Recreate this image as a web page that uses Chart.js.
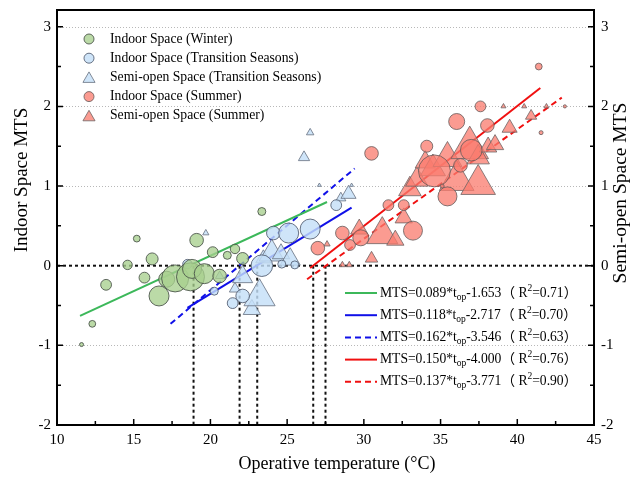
<!DOCTYPE html>
<html>
<head>
<meta charset="utf-8">
<script src="https://cdn.jsdelivr.net/npm/chart.js@4.4.0/dist/chart.umd.min.js"></script>
<style>
  html, body { margin: 0; padding: 0; background: #fff; }
</style>
</head>
<body>
<canvas id="c" width="636" height="484"></canvas>
<script>
// ---------- Data ----------
const xTicks = [10, 15, 20, 25, 30, 35, 40, 45];
const yTicks = [-2, -1, 0, 1, 2, 3];
const gridVals = [-1, 1, 2, 3];

// Indoor space, winter (t_op, MTS, bubble radius)
const winterT   = [11.6, 12.3, 13.2, 14.6, 15.2, 15.7, 16.2, 16.65, 17.15, 17.7, 18.7, 18.8, 19.1, 19.6, 20.15, 20.6, 21.1, 21.6, 22.1, 23.35];
const winterMTS = [-0.99, -0.73, -0.24, 0.01, 0.34, -0.15, 0.085, -0.38, -0.17, -0.16, -0.14, -0.04, 0.32, -0.10, 0.17, -0.13, 0.13, 0.21, 0.09, 0.68];
const winterR   = [2, 3.4, 5.4, 4.7, 3.4, 5.4, 6, 10, 8, 13.5, 14, 9.5, 6.8, 10, 5.4, 6.8, 4, 4.7, 6, 4];

// Indoor space, transition seasons
const transInT   = [18.5, 20.25, 21.45, 22.1, 23.35, 24.1, 24.65, 25.1, 25.5, 26.5, 28.2];
const transInMTS = [0.02, -0.32, -0.47, -0.38, 0.0, 0.41, 0.02, 0.41, 0.01, 0.46, 0.76];
const transInR   = [4.7, 4, 5.4, 6.8, 10.8, 6.8, 4, 10, 4, 10, 5.4];

// Semi-open space, transition seasons
const transOutT   = [19.7, 20.6, 21.6, 22.1, 22.7, 23.2, 23.45, 24.0, 24.6, 25.2, 26.1, 26.5, 27.1, 28.5, 29.0, 29.2];
const transOutMTS = [0.41, -0.13, -0.29, -0.14, -0.55, -0.39, 0.09, 0.15, 0.15, 0.08, 1.36, 1.67, 1.01, 0.85, 0.90, 1.01];
const transOutR   = [3.6, 5, 6.5, 11.6, 10, 18, 8.7, 14.5, 10, 11.6, 6.5, 4.3, 2.2, 5.8, 8.7, 2.2];

// Indoor space, summer
const summerInT   = [27.0, 28.6, 29.1, 29.8, 30.5, 31.6, 32.6, 33.2, 34.1, 34.6, 35.1, 35.45, 36.05, 36.3, 37.0, 37.6, 38.05, 41.4, 41.55, 43.1];
const summerInMTS = [0.22, 0.41, 0.26, 0.35, 1.41, 0.76, 0.76, 0.44, 1.50, 1.19, 1.0, 0.87, 1.81, 1.26, 1.45, 2.0, 1.76, 2.5, 1.67, 2.0];
const summerInR   = [6.8, 6.8, 5.4, 8, 6.8, 5.4, 5.4, 9.5, 6, 16, 2, 9.5, 8, 6.8, 10.8, 5.4, 6.8, 3.4, 2, 1.6];

// Semi-open space, summer
const summerOutT   = [27.6, 28.6, 29.05, 29.7, 30.5, 31.2, 32.05, 32.6, 33.0, 33.45, 34.0, 34.5, 35.45, 36.05, 36.9, 37.45, 37.45, 38.1, 38.55, 39.1, 39.5, 40.45, 40.9, 41.9];
const summerOutMTS = [0.27, 0.01, 0.01, 0.46, 0.09, 0.39, 0.32, 0.60, 0.96, 1.08, 1.30, 1.22, 1.35, 1.07, 1.48, 1.02, 1.36, 1.49, 1.52, 2.0, 1.73, 2.0, 1.88, 2.0];
const summerOutR   = [3.6, 3.6, 3.6, 10, 7.2, 18, 10, 10, 13, 13, 11.6, 14.5, 16.7, 20, 21.7, 20, 13, 10, 10, 2.9, 8.7, 2.9, 6.5, 2.9];

// Fit lines, end points ([t start, t end], [MTS start, MTS end])
const fitNames  = ['winterIn', 'transIn', 'transOut', 'summerIn', 'summerOut'];
const fitT      = [[11.5, 27.6], [18.5, 29.2], [17.4, 29.4], [26.5, 41.5], [26.3, 42.9]];
const fitMTS    = [[-0.63, 0.80], [-0.53, 0.73], [-0.73, 1.22], [-0.03, 2.23], [-0.17, 2.11]];
const fitSlope  = ['0.089', '0.118', '0.162', '0.150', '0.137'];
const fitInter  = ['-1.653', '-2.717', '-3.546', '-4.000', '-3.771'];
const fitR2     = ['0.71', '0.70', '0.63', '0.76', '0.90'];

// Neutral temperatures (MTS = 0)
const neutralT = [18.9, 21.9, 23.05, 26.7, 27.5];

const seriesLabels = [
  'Indoor Space (Winter)',
  'Indoor Space (Transition Seasons)',
  'Semi-open Space (Transition Seasons)',
  'Indoor Space (Summer)',
  'Semi-open Space (Summer)'
];

// ---------- Styles ----------
const SERIF = '"Liberation Serif", "Times New Roman", serif';
const GREEN_FILL = 'rgba(168,208,142,0.78)';
const BLUE_FILL = 'rgba(196,223,248,0.82)';
const RED_FILL = 'rgba(250,124,110,0.76)';
const fillColors = [GREEN_FILL, BLUE_FILL, BLUE_FILL, RED_FILL, RED_FILL];
const edgeColors = ['rgba(70,80,70,0.85)', 'rgba(80,90,110,0.85)', 'rgba(110,120,135,0.85)', 'rgba(100,90,90,0.8)', 'rgba(110,100,100,0.8)'];
const shapes = ['circle', 'circle', 'triangle', 'circle', 'triangle'];
const fitColors = ['#3cb85a', '#1010e8', '#1010e8', '#f01010', '#f01010'];
const fitDash = [[], [], [6, 4], [], [6, 4]];

function pts(xs, ys, rs) {
  return xs.map((x, i) => ({ x: x, y: ys[i], r: rs[i] }));
}

const bubbleSets = [
  pts(winterT, winterMTS, winterR),
  pts(transInT, transInMTS, transInR),
  pts(transOutT, transOutMTS, transOutR),
  pts(summerInT, summerInMTS, summerInR),
  pts(summerOutT, summerOutMTS, summerOutR)
];

const datasets = [];

bubbleSets.forEach((d, i) => {
  datasets.push({
    type: 'bubble',
    label: seriesLabels[i],
    data: d,
    backgroundColor: fillColors[i],
    borderColor: edgeColors[i],
    borderWidth: 1,
    pointStyle: shapes[i],
    order: 1
  });
});

fitNames.forEach((n, i) => {
  datasets.push({
    type: 'line',
    label: n,
    data: [{ x: fitT[i][0], y: fitMTS[i][0] }, { x: fitT[i][1], y: fitMTS[i][1] }],
    borderColor: fitColors[i],
    borderWidth: 2,
    borderDash: fitDash[i],
    pointRadius: 0,
    fill: false,
    order: 3
  });
});

// black dashed reference lines
datasets.push({
  type: 'line',
  label: 'zero',
  data: [{ x: 10, y: 0 }, { x: 45, y: 0 }],
  borderColor: '#111',
  borderWidth: 2,
  borderDash: [3, 3],
  pointRadius: 0,
  order: 4
});
neutralT.forEach(t => {
  datasets.push({
    type: 'line',
    label: 'neutral',
    data: [{ x: t, y: 0 }, { x: t, y: -2 }],
    borderColor: '#111',
    borderWidth: 2,
    borderDash: [3, 3],
    pointRadius: 0,
    order: 4
  });
});

// ---------- Plugins ----------
const gridPlugin = {
  id: 'gridPlugin',
  beforeDatasetsDraw(chart) {
    const { ctx, chartArea: a, scales: { y } } = chart;
    ctx.save();
    ctx.strokeStyle = '#b8b8b8';
    ctx.lineWidth = 1;
    ctx.setLineDash([1, 2]);
    gridVals.forEach(v => {
      const py = Math.round(y.getPixelForValue(v)) + 0.5;
      ctx.beginPath();
      ctx.moveTo(a.left, py);
      ctx.lineTo(a.right, py);
      ctx.stroke();
    });
    ctx.restore();
  }
};

const framePlugin = {
  id: 'framePlugin',
  afterDatasetsDraw(chart) {
    const { ctx, chartArea: a, scales: { x, y } } = chart;
    ctx.save();
    ctx.strokeStyle = '#000';
    ctx.lineWidth = 1.5;
    // ticks (inward)
    for (let v = 10; v <= 45; v += 2.5) {
      const px = x.getPixelForValue(v);
      const len = (v % 5 === 0) ? 6 : 4;
      ctx.beginPath();
      ctx.moveTo(px, a.bottom);
      ctx.lineTo(px, a.bottom - len);
      ctx.stroke();
    }
    for (let v = -2; v <= 3; v += 0.5) {
      const py = y.getPixelForValue(v);
      const len = Number.isInteger(v) ? 6 : 4;
      ctx.beginPath();
      ctx.moveTo(a.left, py);
      ctx.lineTo(a.left + len, py);
      ctx.moveTo(a.right, py);
      ctx.lineTo(a.right - len, py);
      ctx.stroke();
    }
    ctx.lineWidth = 2;
    ctx.strokeRect(a.left, a.top, a.right - a.left, a.bottom - a.top);
    ctx.restore();
  }
};

function drawMarker(ctx, shape, cx, cy, r, fill, edge) {
  ctx.beginPath();
  if (shape === 'circle') {
    ctx.arc(cx, cy, r, 0, Math.PI * 2);
  } else {
    ctx.moveTo(cx, cy - r);
    ctx.lineTo(cx + r * 0.866, cy + r * 0.5);
    ctx.lineTo(cx - r * 0.866, cy + r * 0.5);
    ctx.closePath();
  }
  ctx.fillStyle = fill;
  ctx.fill();
  ctx.strokeStyle = edge;
  ctx.lineWidth = 1;
  ctx.stroke();
}

const textPlugin = {
  id: 'textPlugin',
  afterDraw(chart) {
    const { ctx } = chart;
    ctx.save();
    ctx.fillStyle = '#000';
    ctx.textBaseline = 'middle';

    // marker legend, top left
    ctx.font = '13.7px ' + SERIF;
    ctx.textAlign = 'left';
    seriesLabels.forEach((lab, i) => {
      const ly = 39 + i * 19.2;
      const isCircle = shapes[i] === 'circle';
      drawMarker(ctx, shapes[i], 89, ly + (isCircle ? 0 : 1.5), isCircle ? 5 : 7, fillColors[i], edgeColors[i]);
      ctx.fillStyle = '#000';
      ctx.fillText(lab, 110, ly);
    });

    // fit legend, bottom right
    const base = '13.6px ' + SERIF + ', "Noto Sans CJK SC"';
    const small = '9.5px ' + SERIF;
    fitNames.forEach((n, i) => {
      const ly = 293 + i * 22.2;
      ctx.save();
      ctx.strokeStyle = fitColors[i];
      ctx.lineWidth = 2;
      ctx.setLineDash(fitDash[i]);
      ctx.beginPath();
      ctx.moveTo(345, ly);
      ctx.lineTo(377, ly);
      ctx.stroke();
      ctx.restore();
      let tx = 380;
      const parts = [
        [base, 'MTS=' + fitSlope[i] + '*t', 0],
        [small, 'op', 4],
        [base, fitInter[i] + '（ R', 0],
        [small, '2', -5],
        [base, '=' + fitR2[i] + '）', 0]
      ];
      parts.forEach(p => {
        ctx.font = p[0];
        ctx.fillStyle = '#000';
        ctx.fillText(p[1], tx, ly + p[2]);
        tx += ctx.measureText(p[1]).width;
      });
    });

    // axis titles
    ctx.textAlign = 'center';
    ctx.font = '18px ' + SERIF;
    ctx.fillText('Operative temperature (°C)', 337, 464);
    ctx.font = '19px ' + SERIF;
    ctx.save();
    ctx.translate(22, 180);
    ctx.rotate(-Math.PI / 2);
    ctx.fillText('Indoor Space MTS', 0, 0);
    ctx.restore();
    ctx.save();
    ctx.translate(621, 193);
    ctx.rotate(-Math.PI / 2);
    ctx.font = '19.5px ' + SERIF;
    ctx.fillText('Semi-open Space MTS', 0, 0);
    ctx.restore();
    ctx.restore();
  }
};

// ---------- Chart ----------
const tickFont = { family: SERIF, size: 15 };

function fitVertical(width) {
  return s => { s.width = width; s.paddingTop = 0; s.paddingBottom = 0; };
}

new Chart(document.getElementById('c').getContext('2d'), {
  type: 'bubble',
  data: { datasets: datasets },
  options: {
    responsive: false,
    animation: false,
    layout: { autoPadding: false, padding: { top: 10, left: 0, right: 0, bottom: 0 } },
    plugins: { legend: { display: false }, tooltip: { enabled: false } },
    scales: {
      x: {
        type: 'linear',
        min: 10, max: 45,
        afterBuildTicks: s => { s.ticks = xTicks.map(v => ({ value: v })); },
        afterFit: s => { s.height = 59; s.paddingLeft = 0; s.paddingRight = 0; },
        grid: { display: false, drawTicks: false },
        border: { display: false },
        ticks: { font: tickFont, color: '#000', padding: 6, maxRotation: 0 }
      },
      y: {
        type: 'linear', position: 'left',
        min: -2, max: 3.21,
        afterBuildTicks: s => { s.ticks = yTicks.map(v => ({ value: v })); },
        afterFit: fitVertical(57),
        grid: { display: false, drawTicks: false },
        border: { display: false },
        ticks: { font: tickFont, color: '#000', padding: 6 }
      },
      y2: {
        type: 'linear', position: 'right',
        min: -2, max: 3.21,
        afterBuildTicks: s => { s.ticks = yTicks.map(v => ({ value: v })); },
        afterFit: fitVertical(42),
        grid: { display: false, drawTicks: false },
        border: { display: false },
        ticks: { font: tickFont, color: '#000', padding: 7 }
      }
    }
  },
  plugins: [gridPlugin, framePlugin, textPlugin]
});
</script>
</body>
</html>
